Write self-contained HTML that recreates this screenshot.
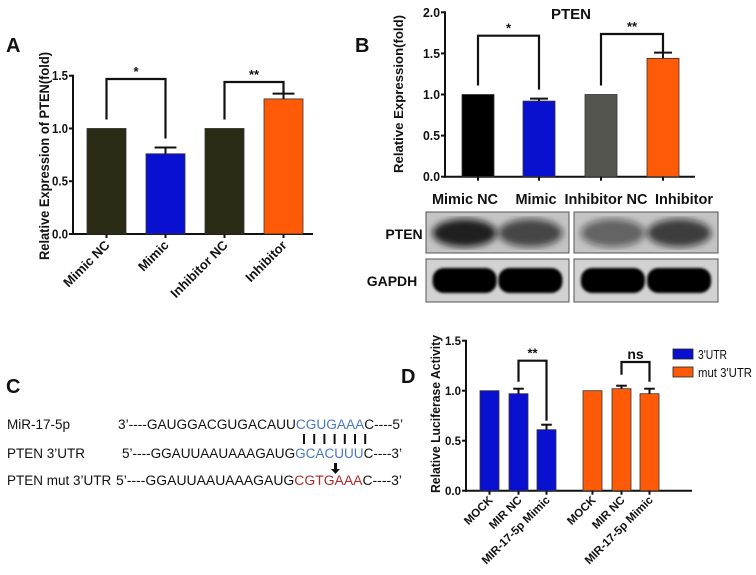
<!DOCTYPE html>
<html><head><meta charset="utf-8"><style>
html,body{margin:0;padding:0;background:#fff;}
svg{display:block;font-family:"Liberation Sans",Arial,sans-serif;}
</style></head><body>
<svg id="fig" width="756" height="575" viewBox="0 0 756 575">
<defs>
<filter id="blur3"><feGaussianBlur stdDeviation="3.5"/></filter>
<filter id="blur1"><feGaussianBlur stdDeviation="1.2"/></filter>
</defs>
<g id="A"></g>
<g id="B"></g>
<g id="C"></g>
<g id="D"></g>
</svg>
<script>
// Panel A data
const aCategories = ["Mimic NC","Mimic","Inhibitor NC","Inhibitor"];
const aValues = [1.0, 0.76, 1.0, 1.28];
const aErrors = [0, 0.06, 0, 0.05];
const aTicks = [0.0, 0.5, 1.0, 1.5];
// Panel B data
const bCategories = ["Mimic NC","Mimic","Inhibitor NC","Inhibitor"];
const bValues = [1.0, 0.92, 1.0, 1.44];
const bErrors = [0, 0.03, 0, 0.07];
const bTicks = [0.0, 0.5, 1.0, 1.5, 2.0];
// Panel D data
const dCategories = ["MOCK","MIR NC","MIR-17-5p Mimic","MOCK","MIR NC","MIR-17-5p Mimic"];
const dValues = [1.0, 0.97, 0.61, 1.0, 1.02, 0.97];
const dErrors = [0, 0.05, 0.05, 0, 0.03, 0.05];
const dTicks = [0.0, 0.5, 1.0, 1.5];

const NS="http://www.w3.org/2000/svg";
function mk(parent,tag,attrs,text){const e=document.createElementNS(NS,tag);for(const k in attrs)e.setAttribute(k,attrs[k]);if(text!==undefined)e.textContent=text;parent.appendChild(e);return e;}

function drawChart(g,cfg){
  const y=v=>cfg.y0-(v-cfg.vmin)/(cfg.vmax-cfg.vmin)*(cfg.y0-cfg.y1);
  const ax=mk(g,'line',{x1:cfg.x0,y1:cfg.y1-1,x2:cfg.x0,y2:cfg.y0+1,stroke:'#111','stroke-width':2});
  
  
  const xa=mk(g,'line',{x1:cfg.x0-1,y1:cfg.y0,x2:cfg.xEnd,y2:cfg.y0,stroke:'#111','stroke-width':2});
  
  
  cfg.ticks.forEach(t=>{
    mk(g,'line',{x1:cfg.x0-4,y1:y(t),x2:cfg.x0,y2:y(t),stroke:'#111','stroke-width':2});
    const tl=mk(g,'text',{x:cfg.x0-5,y:y(t)+4.5,'text-anchor':'end','font-size':cfg.tfs,'font-weight':'bold',fill:'#111',textLength:cfg.tlen,lengthAdjust:'spacingAndGlyphs'},t.toFixed(1));
    
    
  });
  const tops=[];
  cfg.values.forEach((v,i)=>{
    const bx=cfg.bx[i], bw=cfg.bw;
    const r=mk(g,'rect',{x:bx,y:y(v),width:bw,height:cfg.y0-y(v),fill:cfg.colors[i],stroke:'#333','stroke-width':0.8});
    
    
    const cx=bx+bw/2;
    let top=y(v);
    if(cfg.errors[i]>0){
      const ey=y(v+cfg.errors[i]);top=ey;
      mk(g,'line',{x1:cx,y1:y(v),x2:cx,y2:ey,stroke:'#111','stroke-width':2});
      mk(g,'line',{x1:cx-bw*0.28,y1:ey,x2:cx+bw*0.28,y2:ey,stroke:'#111','stroke-width':2});
    }
    tops.push(top);
    mk(g,'line',{x1:cx,y1:cfg.y0,x2:cx,y2:cfg.y0+4,stroke:'#111','stroke-width':2});
    if(cfg.rot){
      const lx=cx+4, ly=cfg.y0+cfg.labOff;
      const t=mk(g,'text',{x:lx,y:ly,'text-anchor':'end','font-size':cfg.lfs,'font-weight':'bold',fill:'#111',transform:`rotate(-45 ${lx} ${ly})`},cfg.cats[i]);
      
      
    }
  });
  cfg.brackets.forEach(b=>{
    const xa1=cfg.bx[b.i]+cfg.bw/2, xb=cfg.bx[b.j]+cfg.bw/2;
    const by=b.y;
    const p=mk(g,'path',{d:`M${xa1} ${tops[b.i]-b.gap1} L${xa1} ${by} L${xb} ${by} L${xb} ${tops[b.j]-b.gap2}`,fill:'none',stroke:'#111','stroke-width':2.2});
    
    
    const s=mk(g,'text',{x:(xa1+xb)/2,y:by-3,'text-anchor':'middle','font-size':b.fs||12,'font-weight':'bold',fill:'#111'},b.label);
    
    
  });
  return y;
}

// Panel A
const gA=document.getElementById('A');
mk(gA,'text',{x:6,y:52,'font-size':20,'font-weight':'bold',fill:'#111',},'A');
mk(gA,'text',{x:0,y:0,'font-size':13.5,'font-weight':'bold',fill:'#111','text-anchor':'middle',textLength:208,lengthAdjust:'spacingAndGlyphs',transform:'translate(49 156) rotate(-90)',},'Relative Expression of PTEN(fold)');
drawChart(gA,{x0:73,xEnd:313,y0:234,y1:75.7,vmin:0,vmax:1.5,ticks:aTicks,values:aValues,errors:aErrors,cats:aCategories,
  bx:[87,146,205,264],bw:39,colors:['#2b2a14','#0a10d0','#2b2a14','#ff5a08'],tfs:12.5,tlen:16,lfs:13,rot:true,labOff:12,
  brackets:[{i:0,j:1,y:79,label:'*',gap1:9,gap2:9,fs:13},{i:2,j:3,y:82,label:'**',gap1:9,gap2:0,fs:13}]});

// Panel B
const gB=document.getElementById('B');
mk(gB,'text',{x:355,y:52,'font-size':20,'font-weight':'bold',fill:'#111',},'B');
mk(gB,'text',{x:571,y:19,'font-size':15,'font-weight':'bold',fill:'#111','text-anchor':'middle',},'PTEN');
mk(gB,'text',{x:0,y:0,'font-size':13,'font-weight':'bold',fill:'#111','text-anchor':'middle',textLength:158,lengthAdjust:'spacingAndGlyphs',transform:'translate(403 94) rotate(-90)',},'Relative Expression(fold)');
drawChart(gB,{x0:445,xEnd:695,y0:176.7,y1:12.3,vmin:0,vmax:2.0,ticks:bTicks,values:bValues,errors:bErrors,cats:bCategories,
  bx:[462,523,585,647],bw:32,colors:['#000','#0a10d0','#555550','#ff5a08'],tfs:12.5,tlen:17,lfs:12,rot:false,
  brackets:[{i:0,j:1,y:35.7,label:'*',gap1:9,gap2:9,fs:13},{i:2,j:3,y:34,label:'**',gap1:9,gap2:0,fs:13}]});
const bLabX=[465,536,606,684];
bCategories.forEach((c,i)=>{
  const t=mk(gB,'text',{x:bLabX[i],y:204,'font-size':14.5,'font-weight':'bold',fill:'#111','text-anchor':'middle'},c);
  
  
});
// Western blot
mk(gB,'text',{x:404,y:239,'font-size':14,'font-weight':'bold',fill:'#111','text-anchor':'middle',},'PTEN');
mk(gB,'text',{x:392,y:286,'font-size':14,'font-weight':'bold',fill:'#111','text-anchor':'middle',},'GAPDH');
const boxes=[[426,143],[574,144]];
const ptenInt=[0.9,0.7,0.55,0.75];
boxes.forEach((b,k)=>{
  const r1=mk(gB,'rect',{x:b[0],y:212,width:b[1],height:41,fill:'#c4c4c4',stroke:'#555','stroke-width':1});
  
  
  const r2=mk(gB,'rect',{x:b[0],y:259,width:b[1],height:43,fill:'#d2d2d2',stroke:'#555','stroke-width':1});
  
  
  for(let j=0;j<2;j++){
    const cx=b[0]+b[1]*(j?0.73:0.27);
    const op=ptenInt[k*2+j];
    const e1=mk(gB,'ellipse',{cx:cx,cy:233,rx:32,ry:14,fill:'#111','fill-opacity':op,filter:'url(#blur3)'});
    
    
    const e2=mk(gB,'rect',{x:cx-32,y:268,width:64,height:25,rx:11,fill:'#050505',filter:'url(#blur1)'});
    
    
  }
});

// Panel C
const gC=document.getElementById('C');
mk(gC,'text',{x:6,y:393,'font-size':20,'font-weight':'bold',fill:'#111',},'C');
const fs=13.5;
function seq(y,x,parts,len,name){
  const t=mk(gC,'text',{x:x,y:y,'font-size':fs,fill:'#111',textLength:len,lengthAdjust:'spacingAndGlyphs'});
  
  
  parts.forEach(p=>{mk(t,'tspan',{fill:p[1]},p[0]);});
}
mk(gC,'text',{x:7,y:429,'font-size':fs,fill:'#111',},'MiR-17-5p');
mk(gC,'text',{x:7,y:458,'font-size':fs,fill:'#111',},'PTEN 3\u2019UTR');
mk(gC,'text',{x:7,y:485,'font-size':fs,fill:'#111',},'PTEN mut 3\u2019UTR');
seq(429,118,[['3\u2019----GAUGGACGUGACAUU','#111'],['CGUGAAA','#4a78c0'],['C----5\u2019','#111']],285,'mir-17-5p-sequence');
seq(458,122,[['5\u2019----GGAUUAAUAAAGAUG','#111'],['GCACUUU','#4a78c0'],['C----3\u2019','#111']],280,'pten-3utr-sequence');
seq(485,116,[['5\u2019----GGAUUAAUAAAGAUG','#111'],['CGTGAAA','#b02828'],['C----3\u2019','#111']],286,'pten-mut-sequence');
for(let i=0;i<7;i++){
  const x=304+i*10.2;
  const l=mk(gC,'line',{x1:x,y1:434,x2:x,y2:444,stroke:'#111','stroke-width':2});
  
  
}
mk(gC,'path',{d:'M334 463 L334 469 L331 469 L335.5 474 L340 469 L337 469 L337 463 Z',fill:'#111',});

// Panel D
const gD=document.getElementById('D');
mk(gD,'text',{x:401,y:383,'font-size':20,'font-weight':'bold',fill:'#111',},'D');
mk(gD,'text',{x:0,y:0,'font-size':12.5,'font-weight':'bold',fill:'#111','text-anchor':'middle',textLength:158,lengthAdjust:'spacingAndGlyphs',transform:'translate(440 414) rotate(-90)',},'Relative Luciferase Activity');
drawChart(gD,{x0:466,xEnd:692,y0:490.7,y1:340.7,vmin:0,vmax:1.5,ticks:dTicks,values:dValues,errors:dErrors,cats:dCategories,
  bx:[480,509,537,583,612,640],bw:19,colors:['#0a10d0','#0a10d0','#0a10d0','#ff5a08','#ff5a08','#ff5a08'],tfs:12,tlen:16,lfs:11.5,rot:true,labOff:10,
  brackets:[{i:1,j:2,y:360.7,label:'**',gap1:7,gap2:4,fs:13},{i:4,j:5,y:362,label:'ns',gap1:11,gap2:7,fs:14}]});
mk(gD,'rect',{x:673,y:349,width:20,height:10,fill:'#0a10d0',stroke:'#222','stroke-width':0.8,});
mk(gD,'text',{x:698,y:359,'font-size':13,fill:'#111',textLength:29,lengthAdjust:'spacingAndGlyphs',},"3'UTR");
mk(gD,'rect',{x:673,y:367,width:20,height:10,fill:'#ff5a08',stroke:'#222','stroke-width':0.8,});
mk(gD,'text',{x:698,y:377,'font-size':13,fill:'#111',textLength:54,lengthAdjust:'spacingAndGlyphs',},"mut 3'UTR");
</script>
</body></html>
